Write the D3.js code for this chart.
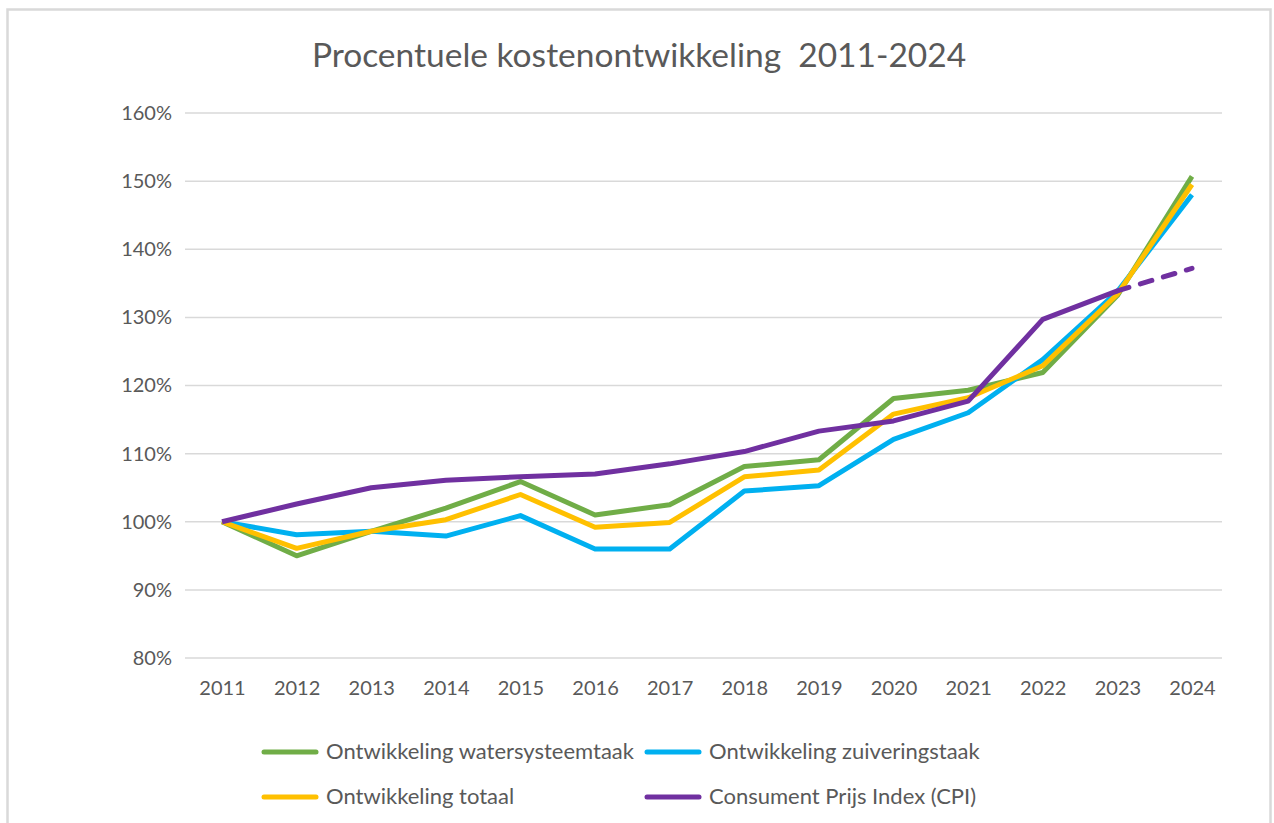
<!DOCTYPE html>
<html>
<head>
<meta charset="utf-8">
<script src="https://cdn.jsdelivr.net/npm/d3@7"></script>
<style>
  body { margin: 0; background: #fff; }
  text { font-family: Lato, "Open Sans", sans-serif; fill: #595959; }
</style>
</head>
<body>
<div id="chart"></div>
<script>
var years = [2011, 2012, 2013, 2014, 2015, 2016, 2017, 2018, 2019, 2020, 2021, 2022, 2023, 2024];
var watersysteem = [100, 95.0, 98.6, 102.0, 105.9, 101.0, 102.5, 108.1, 109.1, 118.1, 119.3, 121.9, 133.2, 150.7];
var zuivering    = [100, 98.1, 98.6, 97.9, 100.9, 96.0, 96.0, 104.5, 105.3, 112.1, 116.0, 123.8, 133.8, 148.0];
var totaal       = [100, 96.1, 98.6, 100.3, 104.0, 99.2, 99.9, 106.6, 107.6, 115.8, 118.2, 122.9, 133.4, 149.5];
var cpi          = [100, 102.6, 105.0, 106.1, 106.6, 107.0, 108.5, 110.3, 113.3, 114.8, 117.7, 129.7, 133.9, 137.2];
var yTicks = [80, 90, 100, 110, 120, 130, 140, 150, 160];

var series = [
  {name: "Ontwikkeling watersysteemtaak", values: watersysteem, color: "#70AD47"},
  {name: "Ontwikkeling zuiveringstaak", values: zuivering, color: "#00B0F0"},
  {name: "Ontwikkeling totaal", values: totaal, color: "#FFC000"},
  {name: "Consument Prijs Index (CPI)", values: cpi, color: "#7030A0"}
];

var W = 1274, H = 823;
var svg = d3.select("#chart").append("svg")
    .attr("width", W)
    .attr("height", H);

// chart frame
svg.append("rect")
    .attr("x", 7.5).attr("y", 9.5)
    .attr("width", 1263).attr("height", 830)
    .attr("fill", "#fff")
    .attr("stroke", "#d9d9d9")
    .attr("stroke-width", 2.5);

var x = d3.scalePoint()
    .domain(years)
    .range([222, 1192]);

var y = d3.scaleLinear()
    .domain([80, 160])
    .range([658, 113]);

// gridlines
svg.append("g")
  .selectAll("line")
  .data(yTicks)
  .enter().append("line")
    .attr("x1", 185).attr("x2", 1222)
    .attr("y1", function(d) { return y(d); })
    .attr("y2", function(d) { return y(d); })
    .attr("stroke", "#d9d9d9")
    .attr("stroke-width", 1.5);

// y axis labels
var yAxis = svg.append("g")
    .attr("transform", "translate(172,0)")
    .call(d3.axisLeft(y).tickValues(yTicks).tickSize(0).tickPadding(0)
      .tickFormat(function(d) { return d + "%"; }));
yAxis.select(".domain").remove();
yAxis.selectAll("text")
    .style("font-size", "20px")
    .style("font-family", "Lato, sans-serif")
    .attr("fill", "#595959");

// x axis labels
var xAxis = svg.append("g")
    .attr("transform", "translate(0,681)")
    .call(d3.axisBottom(x).tickSize(0).tickPadding(0)
      .tickFormat(d3.format("d")));
xAxis.select(".domain").remove();
xAxis.selectAll("text")
    .style("font-size", "20px")
    .style("font-family", "Lato, sans-serif")
    .attr("fill", "#595959");

// lines
var line = d3.line()
    .x(function(d, i) { return x(years[i]); })
    .y(function(d) { return y(d); });

series.forEach(function(s, k) {
  var vals = s.values;
  if (k === 3) {
    // CPI: solid up to 2023, dashed forecast for 2024
    svg.append("path")
      .datum(vals.slice(0, vals.length - 1))
      .attr("fill", "none")
      .attr("stroke", s.color)
      .attr("stroke-width", 5)
      .attr("stroke-linejoin", "round")
      .attr("d", line);
    var last = vals.length - 1;
    svg.append("line")
      .attr("x1", x(years[last - 1])).attr("y1", y(vals[last - 1]))
      .attr("x2", x(years[last])).attr("y2", y(vals[last]))
      .attr("stroke", s.color)
      .attr("stroke-width", 5)
      .attr("stroke-linecap", "round")
      .attr("stroke-dasharray", "12,12");
  } else {
    svg.append("path")
      .datum(vals)
      .attr("fill", "none")
      .attr("stroke", s.color)
      .attr("stroke-width", 5)
      .attr("stroke-linejoin", "round")
      .attr("d", line);
  }
});

// title
svg.append("text")
    .attr("x", 639)
    .attr("y", 67)
    .attr("text-anchor", "middle")
    .style("font-size", "33.5px")
    .style("white-space", "pre")
    .attr("xml:space", "preserve")
    .text("Procentuele kostenontwikkeling  2011-2024");

// legend
var legendPos = [[262, 752], [645, 752], [262, 797], [645, 797]];
series.forEach(function(s, i) {
  var g = svg.append("g")
      .attr("transform", "translate(" + legendPos[i][0] + "," + legendPos[i][1] + ")");
  g.append("line")
      .attr("x1", 2).attr("x2", 54)
      .attr("y1", 0).attr("y2", 0)
      .attr("stroke", s.color)
      .attr("stroke-width", 5)
      .attr("stroke-linecap", "round");
  g.append("text")
      .attr("x", 64)
      .attr("y", 7)
      .style("font-size", "22px")
      .text(s.name);
});
</script>
</body>
</html>
